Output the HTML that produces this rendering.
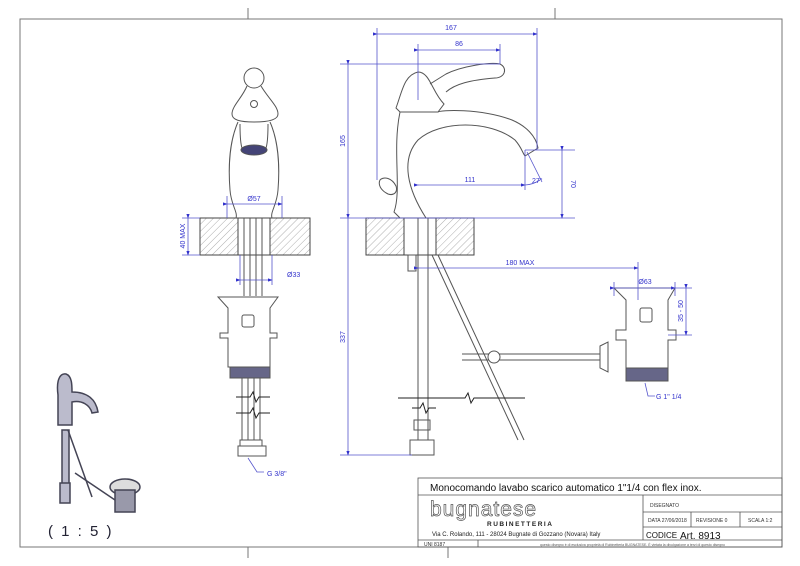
<!DOCTYPE html>
<html><head><meta charset="utf-8"><style>
html,body{margin:0;padding:0;background:#fff;}
svg{display:block;}
text{font-family:"Liberation Sans",sans-serif;}
</style></head><body>
<svg width="800" height="566" viewBox="0 0 800 566" xmlns="http://www.w3.org/2000/svg">
<defs>
<pattern id="h" width="5" height="5" patternUnits="userSpaceOnUse" patternTransform="rotate(45)">
<line x1="0" y1="0" x2="0" y2="5" stroke="#999" stroke-width="0.8"/></pattern>
<marker id="a" markerWidth="6" markerHeight="6" refX="5" refY="3" orient="auto"><path d="M0,1 L6,3 L0,5z" fill="#33c"/></marker>
</defs>
<g stroke="#777" fill="none" stroke-width="1">
<rect x="20" y="19" width="762" height="528"/>
<line x1="248" y1="8" x2="248" y2="19"/><line x1="555" y1="8" x2="555" y2="19"/>
<line x1="248" y1="547" x2="248" y2="558"/><line x1="448" y1="547" x2="448" y2="558"/>
</g>
<g stroke="#444" stroke-width="1">
<rect x="200" y="218" width="38" height="37" fill="url(#h)"/>
<rect x="270" y="218" width="40" height="37" fill="url(#h)"/>
<rect x="366" y="218" width="38" height="37" fill="url(#h)"/>
<rect x="436" y="218" width="38" height="37" fill="url(#h)"/>
<line x1="238" y1="218" x2="270" y2="218"/><line x1="238" y1="255" x2="270" y2="255"/>
<line x1="404" y1="218" x2="436" y2="218"/><line x1="404" y1="255" x2="436" y2="255"/>
</g>
<!-- front faucet -->
<g stroke="#555" fill="none" stroke-width="1">
<circle cx="254" cy="78" r="10"/>
<path d="M247,86 C242,98 232,106 232,114 C232,120 240,122 254,122 C268,122 278,120 278,114 C278,106 268,98 261,86"/>
<circle cx="254" cy="104" r="3.5"/>
<path d="M238,122 C230,140 228,165 230,190 C231,205 238,212 236,218 M270,122 C278,140 280,165 278,190 C277,205 270,212 272,218"/>
<path d="M240,124 C240,132 240,142 242,148 L266,148 C268,142 268,132 268,124"/>
<ellipse cx="254" cy="150" rx="13" ry="5" fill="#447" />
<line x1="244" y1="218" x2="244" y2="296"/><line x1="250" y1="218" x2="250" y2="296"/><line x1="256" y1="218" x2="256" y2="296"/><line x1="262" y1="218" x2="262" y2="296"/>
<path d="M218,297 L278,297 L270,308 L270,333 L277,333 L277,338 L270,338 L270,367 L228,367 L228,338 L220,338 L220,333 L228,333 L228,308z"/>
<rect x="242" y="315" width="12" height="12" rx="2"/>
<rect x="230" y="367" width="40" height="11" fill="#668"/>
<line x1="242" y1="378" x2="242" y2="440"/><line x1="248" y1="378" x2="248" y2="440"/><line x1="254" y1="378" x2="254" y2="440"/><line x1="260" y1="378" x2="260" y2="440"/>
<path d="M236,397 L250,397 L253,392 L256,402 L259,397 L270,397 M236,413 L250,413 L253,408 L256,418 L259,413 L270,413" stroke="#222"/>
<rect x="240" y="440" width="22" height="6"/>
<rect x="238" y="446" width="28" height="10"/>
</g>
<!-- side faucet -->
<g stroke="#555" fill="none" stroke-width="1">
<path d="M396,108 C402,92 404,75 418,72 C430,72 432,92 444,104 L438,112 L400,112z"/>
<path d="M430,84 L446,74 C462,66 490,62 500,64 C508,68 505,78 495,78 C470,80 455,84 446,92"/>
<path d="M400,112 C392,150 402,190 394,212 L400,218 L426,218 C408,190 400,160 418,140 C440,120 490,120 515,140 C522,148 522,152 525,156 L538,148 C536,136 526,126 512,120 C480,108 440,110 438,112"/>
<path d="M380,180 C384,176 392,178 396,186 C398,192 394,196 388,194 C380,190 378,184 380,180z"/>
<line x1="418" y1="218" x2="418" y2="440"/><line x1="428" y1="218" x2="428" y2="440"/>
<rect x="408" y="255" width="8" height="16"/>
<path d="M432,255 L518,440 M438,255 L524,440"/>
<line x1="462" y1="354" x2="600" y2="354"/><line x1="462" y1="360" x2="600" y2="360"/>
<circle cx="494" cy="357" r="6" fill="#fff"/>
<path d="M600,346 L608,342 L608,372 L600,368z"/>
<path d="M614,288 L675,288 L668,300 L668,330 L676,330 L676,340 L668,340 L668,368 L626,368 L626,340 L616,340 L616,330 L626,330 L626,300z"/>
<rect x="640" y="308" width="12" height="14" rx="2"/>
<rect x="626" y="368" width="42" height="13" fill="#668"/>
<path d="M398,398 L465,398 L468,393 L471,403 L474,398 L525,398" stroke="#222"/>
<path d="M412,408 L420,408 L423,403 L426,413 L429,408 L436,408" stroke="#222"/>
<rect x="414" y="420" width="16" height="10"/><rect x="410" y="440" width="24" height="15"/>
</g>
<g stroke="#55c" stroke-width="0.8" fill="none">
<line x1="377" y1="34" x2="537" y2="34" marker-start="url(#a)" marker-end="url(#a)"/>
<line x1="377" y1="28" x2="377" y2="180"/><line x1="537" y1="28" x2="537" y2="150"/>
<line x1="418" y1="50" x2="500" y2="50" marker-start="url(#a)" marker-end="url(#a)"/>
<line x1="418" y1="44" x2="418" y2="100"/><line x1="500" y1="44" x2="500" y2="64"/>
<line x1="348" y1="64" x2="348" y2="218" marker-start="url(#a)" marker-end="url(#a)"/>
<line x1="348" y1="218" x2="348" y2="455" marker-end="url(#a)"/>
<line x1="340" y1="64" x2="500" y2="64"/><line x1="340" y1="218" x2="575" y2="218"/><line x1="340" y1="455" x2="412" y2="455"/>
<line x1="418" y1="185" x2="525" y2="185" marker-start="url(#a)" marker-end="url(#a)"/>
<line x1="525" y1="150" x2="525" y2="190"/><line x1="525" y1="150" x2="575" y2="150"/>
<path d="M527,152 L542,182 M525,185 A30,30 0 0 0 540,180"/>
<line x1="562" y1="150" x2="562" y2="218" marker-start="url(#a)" marker-end="url(#a)"/>
<line x1="418" y1="268" x2="638" y2="268" marker-start="url(#a)" marker-end="url(#a)"/>
<line x1="638" y1="262" x2="638" y2="300"/>
<line x1="614" y1="288" x2="675" y2="288" marker-start="url(#a)" marker-end="url(#a)"/>
<line x1="614" y1="282" x2="614" y2="296"/><line x1="675" y1="282" x2="675" y2="296"/>
<line x1="686" y1="288" x2="686" y2="335" marker-start="url(#a)" marker-end="url(#a)"/>
<line x1="668" y1="335" x2="692" y2="335"/><line x1="675" y1="288" x2="692" y2="288"/>
<line x1="188" y1="218" x2="188" y2="255" marker-start="url(#a)" marker-end="url(#a)"/>
<line x1="182" y1="218" x2="200" y2="218"/><line x1="182" y1="255" x2="200" y2="255"/>
<line x1="227" y1="204" x2="282" y2="204" marker-start="url(#a)" marker-end="url(#a)"/>
<line x1="227" y1="196" x2="227" y2="218"/><line x1="282" y1="196" x2="282" y2="218"/>
<line x1="240" y1="280" x2="272" y2="280" marker-start="url(#a)" marker-end="url(#a)"/>
<line x1="240" y1="255" x2="240" y2="285"/><line x1="272" y1="255" x2="272" y2="285"/>
<path d="M248,458 L257,472 L264,472 M645,383 L648,396 L655,396"/>
</g>
<g fill="#33c" font-size="7">
<text x="451" y="30" text-anchor="middle">167</text>
<text x="459" y="46" text-anchor="middle">86</text>
<text x="470" y="182" text-anchor="middle">111</text>
<text x="532" y="183">27°</text>
<text x="520" y="265" text-anchor="middle">180 MAX</text>
<text x="645" y="284" text-anchor="middle">Ø63</text>
<text x="254" y="201" text-anchor="middle">Ø57</text>
<text x="287" y="277">Ø33</text>
<text x="267" y="476">G 3/8"</text>
<text x="656" y="399">G 1" 1/4</text>
<text transform="translate(345,141) rotate(-90)" text-anchor="middle">165</text>
<text transform="translate(345,337) rotate(-90)" text-anchor="middle">337</text>
<text transform="translate(185,236) rotate(-90)" text-anchor="middle">40 MAX</text>
<text transform="translate(571,184) rotate(90)" text-anchor="middle">70</text>
<text transform="translate(683,311) rotate(-90)" text-anchor="middle">35 - 50</text>
</g>
<g stroke="#445" stroke-width="1.5" fill="#bbc">
<path d="M58,395 C56,380 60,373 66,374 C72,376 72,385 72,392 C88,392 96,400 98,412 L92,413 C90,405 82,400 72,402 L72,425 L58,425z"/>
<rect x="62" y="430" width="7" height="55"/><rect x="60" y="483" width="10" height="20"/>
<line x1="68" y1="430" x2="92" y2="497" fill="none"/><line x1="75" y1="473" x2="115" y2="500" fill="none"/>
<ellipse cx="125" cy="487" rx="15" ry="8" fill="#ddd"/><rect x="115" y="490" width="20" height="22" fill="#99a"/>
</g>
<text x="48" y="536" font-size="15" fill="#223" letter-spacing="2">( 1 : 5 )</text>
<g stroke="#555" fill="none" stroke-width="0.8">
<rect x="418" y="478" width="364" height="69"/>
<line x1="418" y1="495" x2="782" y2="495"/>
<line x1="643" y1="495" x2="643" y2="540"/>
<line x1="643" y1="512" x2="782" y2="512"/><line x1="643" y1="527" x2="782" y2="527"/>
<line x1="691" y1="512" x2="691" y2="527"/><line x1="740" y1="512" x2="740" y2="527"/>
<line x1="418" y1="540" x2="782" y2="540"/><line x1="478" y1="540" x2="478" y2="547"/>
</g>
<text x="430" y="491" font-size="10" fill="#111">Monocomando lavabo scarico automatico 1"1/4 con flex inox.</text>
<text x="430" y="516" font-size="21" fill="#fff" stroke="#555" stroke-width="0.7" letter-spacing="1">bugnatese</text>
<text x="487" y="526" font-size="6.5" font-weight="bold" fill="#222" letter-spacing="1.5">RUBINETTERIA</text>
<text x="432" y="536" font-size="6" fill="#222">Via C. Rolando, 111 - 28024 Bugnate di Gozzano (Novara) Italy</text>
<text x="424" y="546" font-size="5" fill="#333">UNI 8187</text>
<text x="540" y="546" font-size="3.5" fill="#555">questo disegno è di esclusiva proprietà di Rubinetteria BUGNATESE. È vietata la divulgazione a terzi di questo disegno</text>
<text x="650" y="507" font-size="5" fill="#333">DISEGNATO</text>
<text x="648" y="522" font-size="5" fill="#333">DATA   27/06/2018</text>
<text x="696" y="522" font-size="5" fill="#333">REVISIONE  0</text>
<text x="748" y="522" font-size="5" fill="#333">SCALA  1:2</text>
<text x="646" y="538" font-size="8" fill="#111">CODICE</text>
<text x="680" y="539" font-size="10" fill="#111">Art. 8913</text>
</svg>
</body></html>
